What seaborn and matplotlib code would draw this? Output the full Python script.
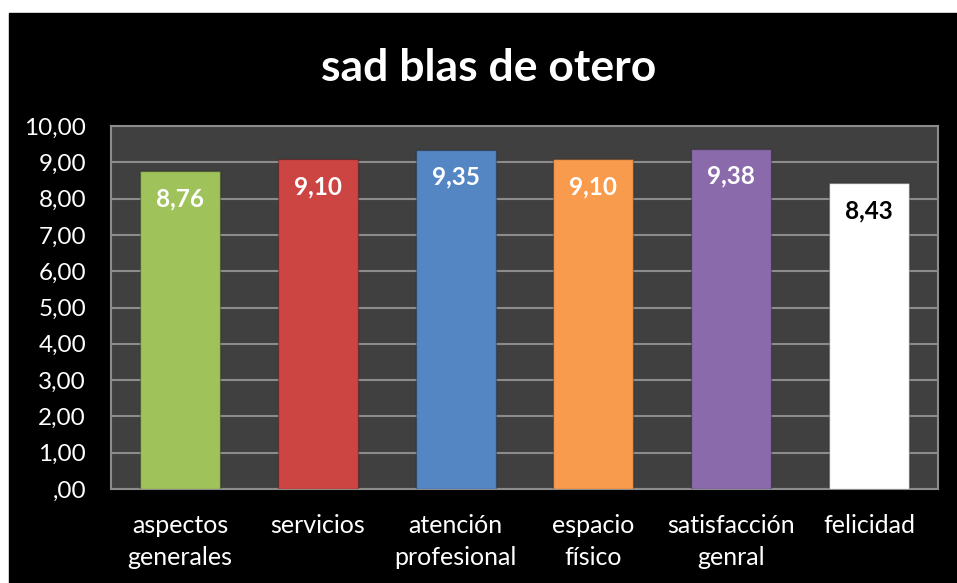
import matplotlib.pyplot as plt
import matplotlib.patches as patches
import seaborn as sns
import pandas as pd

categorias = ["aspectos\ngenerales", "servicios", "atención\nprofesional",
              "espacio\nfísico", "satisfacción\ngenral", "felicidad"]
valores = [8.76, 9.10, 9.35, 9.10, 9.38, 8.43]
colores = ["#9FC25A", "#CD4542", "#5586C4", "#F99B4C", "#8A6AAB", "#FFFFFF"]
color_texto = ["white", "white", "white", "white", "white", "black"]
y_ticks = [0, 1, 2, 3, 4, 5, 6, 7, 8, 9, 10]
y_labels = [",00", "1,00", "2,00", "3,00", "4,00", "5,00", "6,00", "7,00", "8,00", "9,00", "10,00"]

sns.set_style("white")
plt.rcParams["font.family"] = ["Lato", "DejaVu Sans"]

df = pd.DataFrame({"cat": categorias, "val": valores})

fig = plt.figure(figsize=(9.57, 5.83), dpi=100, facecolor="white")
# black chart area (white strip on top and left)
fig.patches.append(patches.Rectangle((9 / 957, 0), 1, 1 - 13 / 583,
                                     transform=fig.transFigure, color="black", zorder=-1))
ax = fig.add_axes([111 / 957, 94 / 583, 827 / 957, 363 / 583])
ax.set_facecolor("#404040")

sns.barplot(data=df, x="cat", y="val", hue="cat", palette=colores, legend=False,
            saturation=1, width=0.58, ax=ax, edgecolor="#00000040", linewidth=1, zorder=3)

ax.set_ylim(0, 10)
ax.set_yticks(y_ticks)
ax.set_yticklabels(y_labels)
ax.yaxis.grid(True, color="#8C8C8C", linewidth=1.5, zorder=0)
ax.set_axisbelow(True)
for s in ax.spines.values():
    s.set_color("#8C8C8C")
    s.set_linewidth(1.5)
ax.tick_params(axis="y", colors="white", labelsize=17.5, length=0, pad=18)
ax.tick_params(axis="x", colors="white", labelsize=18, length=0, pad=18)
for lab in ax.get_xticklabels():
    lab.set_linespacing(1.45)
ax.set_xlabel("")
ax.set_ylabel("")

for i, (v, c) in enumerate(zip(valores, color_texto)):
    ax.annotate(f"{v:.2f}".replace(".", ","), (i, v), xytext=(0, -20),
                textcoords="offset points", ha="center", va="center",
                color=c, fontsize=17.5, fontweight="bold", zorder=5)

fig.text(489 / 957, 1 - 68 / 583, "sad blas de otero", ha="center", va="center",
         color="white", fontsize=32, fontweight="bold")

fig.savefig("out.png", dpi=100, facecolor=fig.get_facecolor())
